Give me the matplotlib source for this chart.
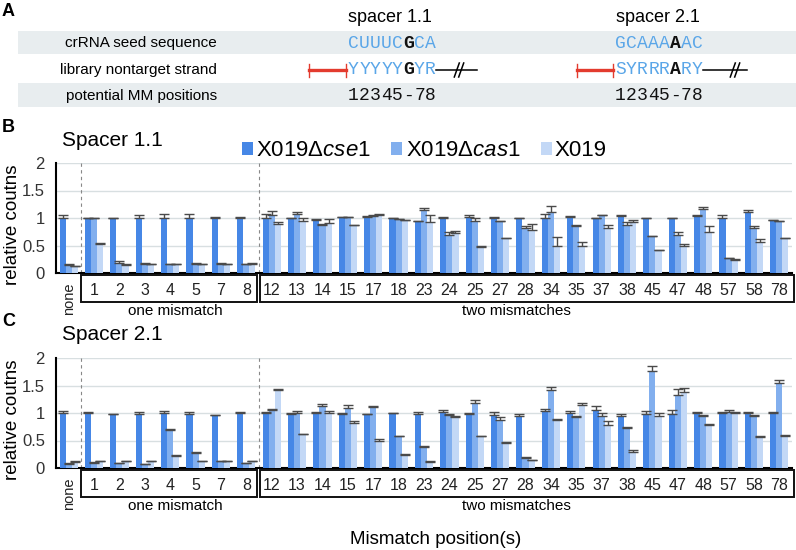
import matplotlib
matplotlib.use('Agg')
import matplotlib.pyplot as plt
from matplotlib.patches import Rectangle
from matplotlib.lines import Line2D
from matplotlib.patches import Patch
import numpy as np

plt.rcParams['font.family'] = ['Liberation Sans', 'DejaVu Sans']
plt.rcParams['mathtext.fontset'] = 'custom'
plt.rcParams['mathtext.it'] = 'Liberation Sans:italic'
plt.rcParams['mathtext.rm'] = 'Liberation Sans'

# ---------------- data ----------------
categories = ['none', '1', '2', '3', '4', '5', '7', '8',
              '12', '13', '14', '15', '17', '18', '23', '24', '25', '27', '28',
              '34', '35', '37', '38', '45', '47', '48', '57', '58', '78']
series_labels = ['X019Δ$\\mathit{cse1}$', 'X019Δ$\\mathit{cas1}$', 'X019']

s11_cse1 = [1.0, 1.0, 1.0, 1.0, 1.0, 1.0, 1.0, 1.0, 1.0, 1.0, 0.97, 1.01, 1.02, 1.0, 0.94,
            1.0, 1.02, 1.0, 1.0, 1.0, 1.02, 1.0, 1.04, 1.0, 1.0, 1.04, 1.0, 1.11, 0.96]
s11_cse1_err = [0.05, 0.0, 0.0, 0.05, 0.07, 0.07, 0.02, 0.02, 0.08, 0.0, 0.01, 0.01, 0.01, 0.0, 0.0,
                0.02, 0.04, 0.02, 0.0, 0.08, 0.01, 0.0, 0.01, 0.0, 0.0, 0.02, 0.05, 0.03, 0.0]
s11_cas1 = [0.15, 1.0, 0.18, 0.17, 0.16, 0.17, 0.17, 0.16, 1.06, 1.08, 0.87, 1.01, 1.04, 0.99, 1.14,
            0.70, 0.95, 0.94, 0.82, 1.11, 0.86, 1.05, 0.88, 0.67, 0.69, 1.17, 0.27, 0.81, 0.95]
s11_cas1_err = [0.01, 0.0, 0.03, 0.01, 0.0, 0.01, 0.01, 0.0, 0.07, 0.03, 0.03, 0.0, 0.01, 0.0, 0.05,
                0.04, 0.05, 0.01, 0.04, 0.1, 0.01, 0.01, 0.04, 0.0, 0.06, 0.03, 0.0, 0.04, 0.0]
s11_x019 = [0.12, 0.52, 0.15, 0.16, 0.16, 0.16, 0.16, 0.17, 0.90, 0.95, 0.91, 0.88, 1.06, 0.97, 0.92,
            0.72, 0.48, 0.63, 0.79, 0.49, 0.49, 0.81, 0.93, 0.41, 0.49, 0.75, 0.24, 0.57, 0.63]
s11_x019_err = [0.01, 0.03, 0.02, 0.0, 0.0, 0.01, 0.0, 0.02, 0.03, 0.05, 0.07, 0.0, 0.01, 0.0, 0.13,
                0.05, 0.02, 0.0, 0.11, 0.17, 0.08, 0.07, 0.03, 0.01, 0.03, 0.11, 0.01, 0.04, 0.0]

s21_cse1 = [1.0, 1.0, 0.98, 0.98, 1.0, 0.98, 0.96, 1.0, 1.0, 0.98, 1.0, 0.98, 0.98, 1.0, 0.98,
            1.02, 0.98, 0.96, 0.94, 1.03, 1.0, 1.05, 0.94, 0.98, 0.98, 1.0, 1.0, 1.0, 1.0]
s21_cse1_err = [0.03, 0.01, 0.01, 0.03, 0.03, 0.03, 0.01, 0.01, 0.01, 0.02, 0.01, 0.02, 0.01, 0.0, 0.04,
                0.03, 0.02, 0.05, 0.05, 0.04, 0.03, 0.07, 0.05, 0.06, 0.07, 0.02, 0.02, 0.02, 0.01]
s21_cas1 = [0.08, 0.10, 0.09, 0.08, 0.70, 0.28, 0.12, 0.09, 1.06, 1.0, 1.13, 1.10, 1.11, 0.59, 0.38,
            0.97, 1.18, 0.87, 0.18, 1.42, 0.93, 0.94, 0.73, 1.76, 1.33, 0.94, 1.02, 0.94, 1.55]
s21_cas1_err = [0.01, 0.01, 0.01, 0.0, 0.01, 0.02, 0.0, 0.01, 0.01, 0.03, 0.04, 0.05, 0.02, 0.0, 0.02,
                0.02, 0.05, 0.05, 0.02, 0.05, 0.02, 0.06, 0.02, 0.09, 0.1, 0.02, 0.04, 0.02, 0.05]
s21_x019 = [0.11, 0.12, 0.12, 0.12, 0.22, 0.12, 0.12, 0.12, 1.42, 0.62, 1.0, 0.81, 0.50, 0.24, 0.11,
            0.93, 0.59, 0.45, 0.14, 0.88, 1.15, 0.79, 0.30, 0.95, 1.39, 0.78, 1.0, 0.57, 0.58]
s21_x019_err = [0.01, 0.0, 0.0, 0.0, 0.02, 0.0, 0.0, 0.0, 0.02, 0.0, 0.03, 0.04, 0.02, 0.02, 0.01,
                0.02, 0.0, 0.03, 0.01, 0.02, 0.03, 0.06, 0.02, 0.05, 0.06, 0.02, 0.02, 0.01, 0.02]

colors = ['#4687e6', '#82afee', '#c3d8f6']

# ---------------- figure ----------------
W, H = 796, 550
fig = plt.figure(figsize=(W / 100, H / 100), dpi=100)

# overlay axes in pixel coordinates for annotations
ov = fig.add_axes([0, 0, 1, 1])
ov.set_xlim(0, W)
ov.set_ylim(H, 0)
ov.axis('off')

# ---------- Panel A ----------
ov.text(2, 12, 'A', fontsize=13, fontweight='bold', ha='left', va='center')
ov.text(390, 18, 'spacer 1.1', fontsize=13, ha='center', va='center')
ov.text(658, 18, 'spacer 2.1', fontsize=13, ha='center', va='center')
band = '#e8edef'
ov.add_patch(Rectangle((18, 31), W - 18, 23, facecolor=band, edgecolor='none'))
ov.add_patch(Rectangle((18, 83), W - 18, 24, facecolor=band, edgecolor='none'))
ov.text(217, 43, 'crRNA seed sequence', fontsize=11, ha='right', va='center')
ov.text(217, 70, 'library nontarget strand', fontsize=11, ha='right', va='center')
ov.text(217, 96, 'potential MM positions', fontsize=11, ha='right', va='center')

seqblue = '#5aa6e8'
adv = 11.0
mono = ['Liberation Mono', 'DejaVu Sans Mono']


def seq(x0, y, s, dark_idx, all_black=False):
    for i, ch in enumerate(s):
        blk = all_black or i == dark_idx
        ov.text(x0 + (i + 0.5) * adv, y, ch, fontsize=13, family=mono,
                ha='center', va='center',
                color='#111111' if blk else seqblue,
                fontweight='bold' if (i == dark_idx and not all_black) else 'normal')


seq(348, 43, 'CUUUCGCA', 5)
seq(615, 43, 'GCAAAAAC', 5)
seq(348, 70, 'YYYYYGYR', 5)
seq(615, 70, 'SYRRRARY', 5)
seq(348, 96, '12345-78', -1, all_black=True)
seq(615, 96, '12345-78', -1, all_black=True)

red = '#e33b2e'
for xa, xb in [(309, 346), (577, 613)]:
    ov.add_line(Line2D([xa, xb], [70, 70], color=red, lw=2.4))
    for xx in (xa, xb):
        ov.add_line(Line2D([xx, xx], [64, 77], color=red, lw=1.0))
for xa, xb, xs in [(436, 477, 459), (703, 747, 735)]:
    ov.add_line(Line2D([xa, xb], [70, 70], color='black', lw=1.1))
    for d in (-2.2, 2.2):
        ov.add_line(Line2D([xs + d - 2.5, xs + d + 2.5], [77, 63], color='black', lw=1.1))

# ---------- Panels B, C ----------
x = np.arange(len(categories))
bw = 0.24
ax_left, ax_right = 56, 792


def px(i):
    return ax_left + (i + 0.5) * (ax_right - ax_left) / len(categories)


def panel(top, bottom, vals, errs, title, letter, legend=False):
    ax = fig.add_axes([ax_left / W, 1 - bottom / H, (ax_right - ax_left) / W, (bottom - top) / H])
    ax.set_facecolor('none')
    for k in range(3):
        ax.bar(x + (k - 1) * bw, vals[k], width=bw, color=colors[k], zorder=3,
               label=series_labels[k])
        ax.errorbar(x + (k - 1) * bw, vals[k], yerr=[np.zeros(len(x)), errs[k]],
                    fmt='none', ecolor='#4a4a4a', elinewidth=1.0, capsize=3.4,
                    capthick=1.0, zorder=4)
    ax.set_xlim(-0.5, len(categories) - 0.5)
    ax.set_ylim(0, 2)
    ax.set_yticks([0, 0.5, 1, 1.5, 2])
    ax.set_yticklabels(['0', '0.5', '1', '1.5', '2'])
    ax.grid(axis='y', color='#d8dfe1', lw=1.0, zorder=0)
    ax.set_axisbelow(True)
    for s in ['top', 'right']:
        ax.spines[s].set_visible(False)
    ax.spines['left'].set_linewidth(1.5)
    ax.spines['bottom'].set_linewidth(1.5)
    ax.tick_params(axis='y', length=0, pad=8, labelsize=12, labelcolor='#333333')
    ax.set_xticks(x)
    ax.set_xticklabels(categories)
    ax.tick_params(axis='x', length=0, pad=7, labelsize=11.5, labelcolor='#222222')
    lbl0 = ax.get_xticklabels()[0]
    lbl0.set_rotation(90)
    lbl0.set_fontsize(10.5)
    lbl0.set_va('top')
    for xv in (0.5, 7.5):
        ax.axvline(xv, color='#888888', lw=0.8, ls=(0, (3, 3)), zorder=1)
    # boxes around category labels
    ov.add_patch(Rectangle((px(0.48), bottom + 1.5), px(7.42) - px(0.48), 27.5,
                           fill=False, edgecolor='#111111', lw=1.4))
    ov.add_patch(Rectangle((px(7.52), bottom + 1.5), 794 - px(7.52), 27.5,
                           fill=False, edgecolor='#111111', lw=1.4))
    ov.text((px(0.48) + px(7.42)) / 2 + 6, bottom + 38, 'one mismatch', fontsize=11,
            ha='center', va='center')
    ov.text(516, bottom + 38, 'two mismatches', fontsize=11, ha='center', va='center')
    ov.text(13, (top + bottom) / 2 + 7, 'relative coutns', fontsize=13.5, rotation=90,
            ha='center', va='center')
    ov.text(62, top - 23, title, fontsize=15, ha='left', va='center')
    ov.text(2, top - 36, letter, fontsize=13, fontweight='bold', ha='left', va='center')
    if legend:
        handles = [Patch(facecolor=c, edgecolor='none') for c in colors]
        fig.legend(handles, series_labels, loc='center left',
                   bbox_to_anchor=(242 / W, 1 - 151 / H), ncol=3, frameon=False,
                   fontsize=16, handlelength=0.5, handleheight=0.5, handletextpad=0.15,
                   columnspacing=0.9, borderpad=0, borderaxespad=0)
    return ax


panel(163, 273, [s11_cse1, s11_cas1, s11_x019], [s11_cse1_err, s11_cas1_err, s11_x019_err],
      'Spacer 1.1', 'B', legend=True)
panel(358, 468, [s21_cse1, s21_cas1, s21_x019], [s21_cse1_err, s21_cas1_err, s21_x019_err],
      'Spacer 2.1', 'C')

ov.text(436, 540, 'Mismatch position(s)', fontsize=13.5, ha='center', va='center')

fig.savefig('out.png', dpi=100)
